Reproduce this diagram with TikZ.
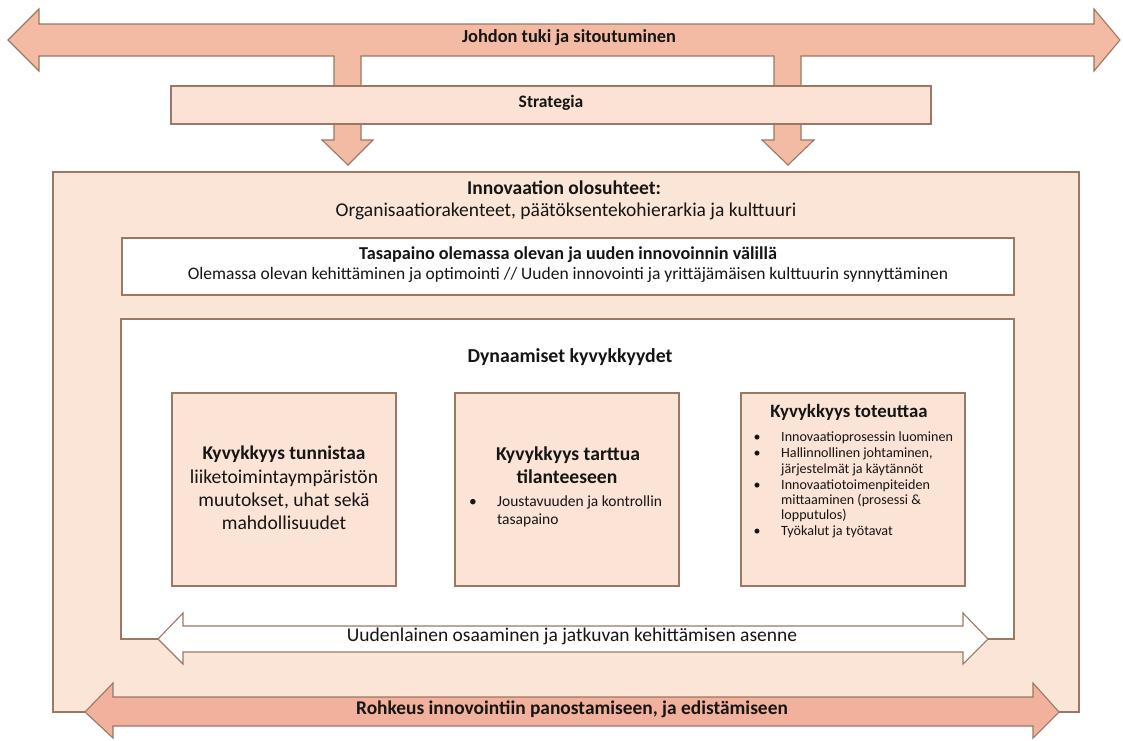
\documentclass[tikz,border=0pt]{standalone}
\usepackage{fontspec}
\setmainfont{Carlito}
\definecolor{peach}{HTML}{FBE5D6}
\definecolor{boxfill}{HTML}{FBE3D6}
\definecolor{stratfill}{HTML}{FBE2D5}
\definecolor{salmon}{HTML}{F3BBA4}
\definecolor{salmondk}{HTML}{F1B19D}
\definecolor{edge}{HTML}{9A7865}
\definecolor{ink}{HTML}{151515}
\begin{document}
\begin{tikzpicture}[x=1pt,y=-1pt,line join=miter,
  panel/.style={draw=edge,line width=1.1pt},
  frame/.style={panel,inner sep=0pt,outer sep=0pt},
  lbl/.style={inner sep=0pt,text=ink,text height=0.76em,text depth=0.2em},
  sz/.style={font=\fontsize{#1}{#1}\selectfont},
  bsz/.style={font=\fontsize{#1}{#1}\selectfont\bfseries}]
\useasboundingbox (0,0) rectangle (1123,740);

% arrow heads below the strategy bar
\draw[panel,fill=salmon] (334,110) -- (361,110) -- (361,140) -- (373,140) -- (348,165) -- (322,140) -- (334,140) -- cycle;
\draw[panel,fill=salmon] (774,110) -- (801,110) -- (801,140) -- (814,140) -- (788,165) -- (762,140) -- (774,140) -- cycle;

% top double arrow with its two stems
\draw[panel,fill=salmon] (8,40) -- (39,9) -- (39,24) -- (1094,24) -- (1094,9) -- (1120,40)
  -- (1094,71) -- (1094,56) -- (801,56) -- (801,100) -- (774,100) -- (774,56)
  -- (361,56) -- (361,100) -- (334,100) -- (334,56) -- (39,56) -- (39,71) -- cycle;
\node[lbl,bsz=18.4] (johdon) at (569,40) {Johdon tuki ja sitoutuminen};

% strategy bar
\node[frame,fill=stratfill,minimum width=760pt,minimum height=38pt] (strat) at (551,105) {};
\node[lbl,bsz=17.5] (strattext) at (551,105) {Strategia};

% conditions panel
\node[frame,fill=peach,minimum width=1026pt,minimum height=540pt] (cond) at (566,442) {};
\node[lbl,bsz=19.5] (condtitle) at (564,192) {Innovaation olosuhteet:};
\node[lbl,sz=19.5] (condtext) at (566,214) {Organisaatiorakenteet, päätöksentekohierarkia ja kulttuuri};

% balance bar
\node[frame,fill=white,minimum width=892pt,minimum height=57pt] (bal) at (568,266.5) {};
\node[lbl,bsz=18.2] (baltitle) at (568,257) {Tasapaino olemassa olevan ja uuden innovoinnin välillä};
\node[lbl,sz=17.5] (baltext) at (568,277) {Olemassa olevan kehittäminen ja optimointi // Uuden innovointi ja yrittäjämäisen kulttuurin synnyttäminen};

% dynamic capabilities panel
\node[frame,fill=white,minimum width=893pt,minimum height=320pt] (dyn) at (567.5,479) {};
\node[lbl,bsz=19.8] (dyntitle) at (570,360) {Dynaamiset kyvykkyydet};

% three capability boxes
\node[frame,fill=boxfill,minimum width=224pt,minimum height=193pt] (sense) at (284,489.5) {};
\node[frame,fill=boxfill,minimum width=224pt,minimum height=193pt] (seize) at (567,489.5) {};
\node[frame,fill=boxfill,minimum width=224pt,minimum height=193pt] (act) at (853,489.5) {};

% sensing
\node[lbl,bsz=19.4] (s1) at (284,457) {Kyvykkyys tunnistaa};
\node[lbl,sz=19.6] (s2) at (284,481) {liiketoimintaympäristön};
\node[lbl,sz=19.6] (s3) at (284,504) {muutokset, uhat sekä};
\node[lbl,sz=19.6] (s4) at (284,527) {mahdollisuudet};

% seizing
\node[lbl,bsz=19.6] (z1) at (568,458) {Kyvykkyys tarttua};
\node[lbl,bsz=19.6] (z2) at (567,481) {tilanteeseen};
\node[lbl,sz=15.5] (zb1) at (473,504) {•};
\node[lbl,sz=15.5,anchor=west] (z3) at (497,504) {Joustavuuden ja kontrollin};
\node[lbl,sz=15.5,anchor=west] (z4) at (497,522) {tasapaino};

% acting
\node[lbl,bsz=18.8] (a0) at (849,415) {Kyvykkyys toteuttaa};
\foreach \i/\yy in {1/439,2/455,3/487,4/533}
  \node[lbl,sz=14] (ab\i) at (757,\yy) {•};
\foreach \i/\yy/\t in {1/439/{Innovaatioprosessin luominen},
                       2/455/{Hallinnollinen johtaminen,},
                       3/471/{järjestelmät ja käytännöt},
                       4/487/{Innovaatiotoimenpiteiden},
                       5/502/{mittaaminen (prosessi \&},
                       6/517/{lopputulos)},
                       7/533/{Työkalut ja työtavat}}
  \node[lbl,sz=14.1,anchor=west] (a\i) at (781,\yy) {\t};

% learning double arrow
\draw[panel,fill=white] (158,639) -- (183,613) -- (183,626) -- (963,626) -- (963,613) -- (988,639)
  -- (963,664) -- (963,652) -- (183,652) -- (183,664) -- cycle;
\node[lbl,sz=19.5] (learn) at (572,639) {Uudenlainen osaaminen ja jatkuvan kehittämisen asenne};

% courage double arrow
\draw[panel,fill=salmondk] (85,712) -- (113,683) -- (113,697) -- (1033,697) -- (1033,683) -- (1059,712)
  -- (1033,738) -- (1033,726) -- (113,726) -- (113,738) -- cycle;
\node[lbl,bsz=19.4] (courage) at (572,712) {Rohkeus innovointiin panostamiseen, ja edistämiseen};
\end{tikzpicture}
\end{document}
